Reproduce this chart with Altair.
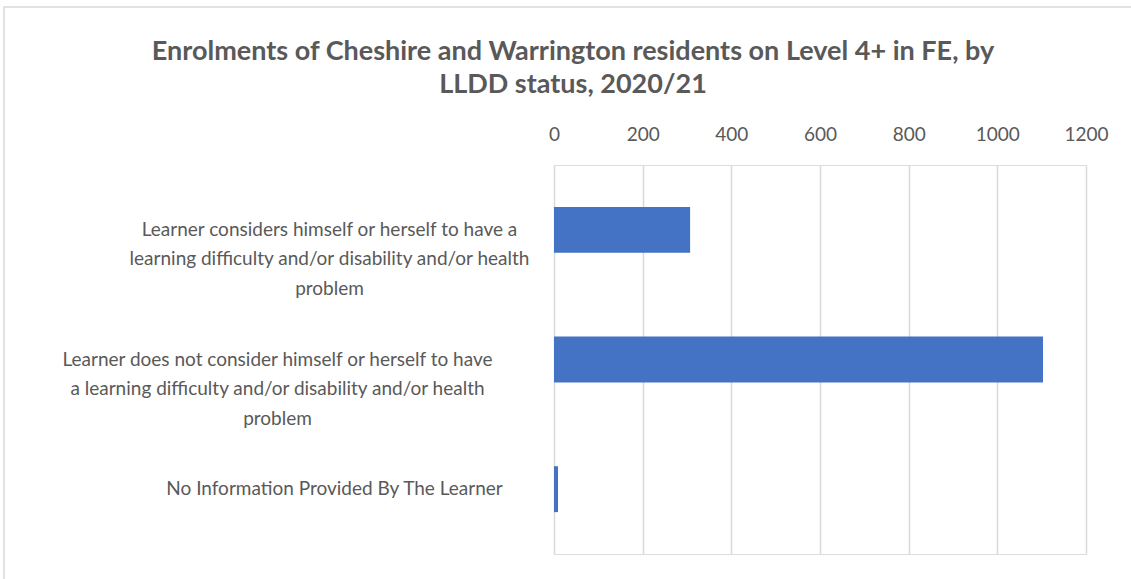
import altair as alt
import pandas as pd

# LLDD status categories (line breaks mark where each label wraps)
categories = [
    "Learner considers himself or herself to have a\nlearning difficulty and/or disability and/or health\nproblem",
    "Learner does not consider himself or herself to have\na learning difficulty and/or disability and/or health\nproblem",
    "No Information Provided By The Learner",
]
enrolments = [307, 1103, 9]
x_ticks = [0, 200, 400, 600, 800, 1000, 1200]

df = pd.DataFrame({"status": categories, "enrolments": enrolments})

FONT = "Lato"
GREY = "#595959"

bars = alt.Chart(df).mark_bar(color="#4472C4").encode(
    x=alt.X(
        "enrolments:Q",
        scale=alt.Scale(domain=[0, 1200], nice=False),
        axis=alt.Axis(
            orient="top",
            values=x_ticks,
            format="d",
            title=None,
            ticks=False,
            domain=False,
            grid=True,
            gridColor="#D9D9D9",
            gridWidth=1.5,
            labelFont=FONT,
            labelFontSize=19,
            labelColor=GREY,
            labelBaseline="middle",
            labelPadding=31,
            labelFlush=False,
        ),
    ),
    y=alt.Y(
        "status:N",
        sort=categories,
        scale=alt.Scale(paddingInner=0.646, paddingOuter=0.323),
        axis=alt.Axis(
            title=None,
            ticks=False,
            domain=False,
            grid=False,
            labelFont=FONT,
            labelFontSize=19,
            labelColor=GREY,
            labelAlign="center",
            labelBaseline="middle",
            labelLineHeight=29.5,
            labelLimit=600,
            labelExpr="split(datum.label, '\\n')",
            labelPadding={
                "condition": [
                    {"test": "indexof(datum.value, 'considers') >= 0", "value": 225},
                    {"test": "indexof(datum.value, 'does not') >= 0", "value": 277},
                ],
                "value": 220,
            },
        ),
    ),
)

# light frame around the chart area
frame = alt.Chart(pd.DataFrame({"k": [0]})).mark_rect(
    fill=None, stroke="#D9D9D9", strokeWidth=1.5
).encode(
    x=alt.value(-550), x2=alt.value(600), y=alt.value(-158), y2=alt.value(440)
)

chart = (
    alt.layer(frame, bars)
    .properties(
        width=532,
        height=389,
        padding={"left": 554, "top": 165, "right": 45, "bottom": 25},
        autosize=alt.AutoSizeParams(type="none"),
        title=alt.TitleParams(
            text=[
                "Enrolments of Cheshire and Warrington residents on Level 4+ in FE, by",
                "LLDD status, 2020/21",
            ],
            font=FONT,
            fontSize=27,
            fontWeight="bold",
            color=GREY,
            anchor="middle",
            dx=-247,
            offset=-93,
            lineHeight=33,
        ),
    )
    .configure_view(strokeWidth=0)
    .configure(background="white")
)

chart.save("out.html", embed_options={"renderer": "svg", "actions": False})
